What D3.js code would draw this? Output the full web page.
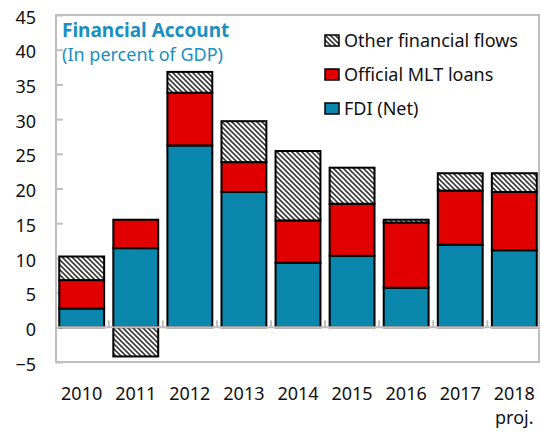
<!DOCTYPE html>
<html>
<head>
<meta charset="utf-8">
<script src="https://cdn.jsdelivr.net/npm/d3@7"></script>
<style>
  body { margin: 0; background: #fff; }
  text { font-family: "Noto Sans", sans-serif; }
</style>
</head>
<body>
<div class="chart"></div>
<script>
// data (percent of GDP)
const years = ["2010", "2011", "2012", "2013", "2014", "2015", "2016", "2017", "2018"];
const fdi = [2.7, 11.4, 26.2, 19.5, 9.3, 10.3, 5.7, 11.9, 11.1];
const officialLoans = [4.1, 4.1, 7.6, 4.3, 6.1, 7.5, 9.4, 7.8, 8.4];
const otherFlows = [3.4, -4.2, 3.0, 5.9, 10.0, 5.2, 0.4, 2.5, 2.7];
const yTicks = [-5, 0, 5, 10, 15, 20, 25, 30, 35, 40, 45];
const seriesNames = ["Other financial flows", "Official MLT loans", "FDI (Net)"];

const width = 541, height = 434;
const margin = { top: 15, right: 1, bottom: 72, left: 56 };

const svg = d3.select(".chart").append("svg")
  .attr("width", width)
  .attr("height", height);

// hatch pattern for "other financial flows"
const defs = svg.append("defs");
const pat = defs.append("pattern")
  .attr("id", "hatch")
  .attr("patternUnits", "userSpaceOnUse")
  .attr("width", 5).attr("height", 5);
pat.append("rect").attr("width", 5).attr("height", 5).attr("fill", "#fff");
pat.append("path")
  .attr("d", "M0,0 L5,5 M-1,4 L1,6 M4,-1 L6,1")
  .attr("stroke", "#3a3a3a")
  .attr("stroke-width", 1.6);

const colors = { fdi: "#0b87ad", loans: "#e00000", other: "url(#hatch)" };

const x = d3.scaleBand()
  .domain(years)
  .range([margin.left, width - margin.right])
  .paddingInner(0.17)
  .paddingOuter(0.06);

const y = d3.scaleLinear()
  .domain([-5, 45])
  .range([height - margin.bottom, margin.top]);

// plot frame
svg.append("rect")
  .attr("x", margin.left)
  .attr("y", y(45))
  .attr("width", width - margin.right - margin.left - 1)
  .attr("height", y(-5) - y(45))
  .attr("fill", "none")
  .attr("stroke", "#bfbfbf")
  .attr("stroke-width", 2);

// y axis
const yAxis = d3.axisLeft(y).tickValues(yTicks).tickSize(-7).tickPadding(20);
const gy = svg.append("g")
  .attr("transform", `translate(${margin.left},0)`)
  .call(yAxis);
gy.select(".domain").remove();
gy.selectAll(".tick line").attr("stroke", "#bfbfbf").attr("stroke-width", 2);
gy.selectAll(".tick text")
  .attr("font-size", 18)
  .attr("fill", "#111")
  .attr("x", -20)
  .attr("dy", "0.45em")
  .attr("font-family", "Noto Sans");

// stacked segments
const rows = years.map((yr, i) => {
  const segs = [];
  segs.push({ key: "fdi", y0: 0, y1: fdi[i] });
  segs.push({ key: "loans", y0: fdi[i], y1: fdi[i] + officialLoans[i] });
  if (otherFlows[i] >= 0) {
    segs.push({ key: "other", y0: fdi[i] + officialLoans[i], y1: fdi[i] + officialLoans[i] + otherFlows[i] });
  } else {
    segs.push({ key: "other", y0: otherFlows[i], y1: 0 });
  }
  return { year: yr, segs: segs };
});

const bars = svg.append("g").selectAll("g")
  .data(rows)
  .join("g");

bars.selectAll("rect")
  .data(d => d.segs.map(s => Object.assign({ year: d.year }, s)))
  .join("rect")
  .attr("x", d => x(d.year))
  .attr("width", x.bandwidth())
  .attr("y", d => y(d.y1))
  .attr("height", d => y(d.y0) - y(d.y1))
  .attr("fill", d => colors[d.key])
  .attr("stroke", "#000")
  .attr("stroke-width", 2);

// zero line with category ticks
svg.append("line")
  .attr("x1", margin.left).attr("x2", width - margin.right - 1)
  .attr("y1", y(0)).attr("y2", y(0))
  .attr("stroke", "#bfbfbf").attr("stroke-width", 2);
const step = x.step();
const bounds = years.slice(1).map(yr => x(yr) - step * x.paddingInner() / 2);
svg.append("g").selectAll("line")
  .data(bounds)
  .join("line")
  .attr("x1", d => d).attr("x2", d => d)
  .attr("y1", y(0)).attr("y2", y(0) - 7)
  .attr("stroke", "#bfbfbf").attr("stroke-width", 2);

// x labels
svg.append("g").selectAll("text")
  .data(years)
  .join("text")
  .attr("x", d => x(d) + x.bandwidth() / 2)
  .attr("y", 400)
  .attr("text-anchor", "middle")
  .attr("font-size", 18)
  .attr("fill", "#111")
  .text(d => d);
svg.append("text")
  .attr("x", x("2018") + x.bandwidth() / 2)
  .attr("y", 424)
  .attr("text-anchor", "middle")
  .attr("font-size", 18)
  .attr("fill", "#111")
  .text("proj.");

// title
svg.append("text")
  .attr("x", 62).attr("y", 37)
  .attr("font-size", 19)
  .attr("font-weight", "bold")
  .attr("fill", "#1a8fc0")
  .text("Financial Account");
svg.append("text")
  .attr("x", 62).attr("y", 61)
  .attr("font-size", 18)
  .attr("fill", "#1a8fc0")
  .text("(In percent of GDP)");

// legend
const legendKeys = ["other", "loans", "fdi"];
const lg = svg.append("g").selectAll("g")
  .data(seriesNames)
  .join("g")
  .attr("transform", (d, i) => `translate(325,${35 + i * 34})`);
lg.append("rect")
  .attr("width", 14).attr("height", 11)
  .attr("fill", (d, i) => colors[legendKeys[i]])
  .attr("stroke", "#000").attr("stroke-width", 1.5);
lg.append("text")
  .attr("x", 19).attr("y", 12)
  .attr("font-size", 18)
  .attr("fill", "#111")
  .text(d => d);
</script>
</body>
</html>
